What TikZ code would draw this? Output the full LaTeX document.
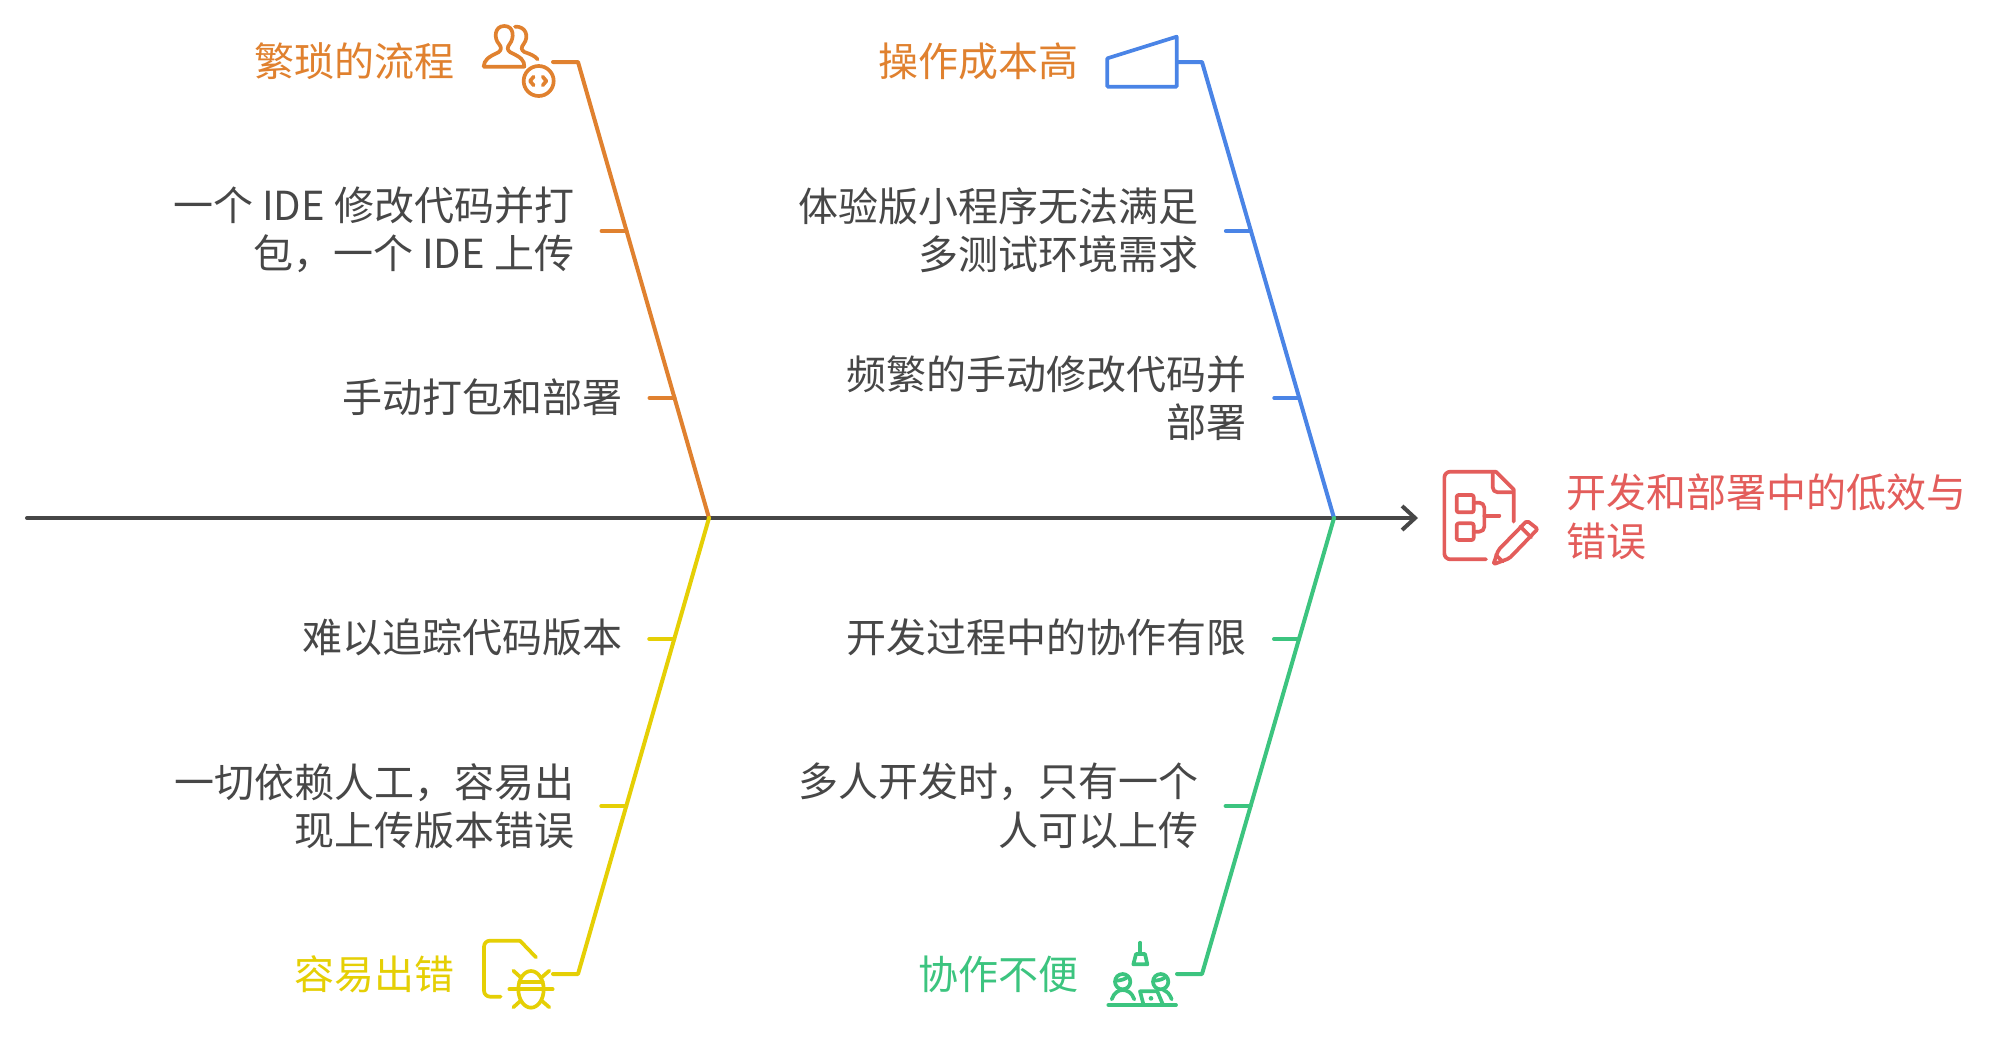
\documentclass[tikz,border=0pt]{standalone}
\usepackage{fontspec}
\setmainfont{Noto Sans CJK SC}
\usetikzlibrary{calc,arrows.meta}
\definecolor{cOrange}{HTML}{E0812F}
\definecolor{cBlue}{HTML}{4A84E6}
\definecolor{cYellow}{HTML}{E5CF05}
\definecolor{cGreen}{HTML}{3CC47F}
\definecolor{cRed}{HTML}{E35D5B}
\definecolor{cText}{HTML}{474747}
\tikzset{
  txt/.style={inner sep=0pt,outer sep=0pt,align=right,anchor=east,text=cText,font=\fontsize{40}{48.5}\selectfont},
  head/.style={inner sep=0pt,outer sep=0pt,anchor=east,font=\fontsize{40}{48.5}\selectfont},
  bone/.style={line width=4pt,line cap=round,line join=round},
  ico/.style={line width=3.7pt,line cap=round,line join=round},
}
\begin{document}
\begin{tikzpicture}[x=1pt,y=-1pt]
\useasboundingbox (0,0) rectangle (1994,1036);
% spine
\coordinate (j1) at (709,518);
\coordinate (j2) at (1334,518);
\coordinate (s0) at (27,518);
\coordinate (s1) at (1418,518);
\draw[bone,cText,-{Straight Barb[length=13pt,width=24pt,line width=4pt]}] (s0) -- (s1);
% branch corners
\coordinate (a0) at (553,62);  \coordinate (a1) at (578,62);
\coordinate (b0) at (1177,62); \coordinate (b1) at (1202,62);
\coordinate (c0) at (553,974); \coordinate (c1) at (578,974);
\coordinate (d0) at (1177,974);\coordinate (d1) at (1202,974);
\draw[bone,cOrange] (a0)--(a1)--(j1);
\draw[bone,cBlue]   (b0)--(b1)--(j2);
\draw[bone,cYellow] (c0)--(c1)--(j1);
\draw[bone,cGreen]  (d0)--(d1)--(j2);
% ribs
\coordinate (ra1) at ($(a1)!0.3706!(j1)$);
\coordinate (ra2) at ($(a1)!0.7368!(j1)$);
\coordinate (rb1) at ($(b1)!0.3706!(j2)$);
\coordinate (rb2) at ($(b1)!0.7368!(j2)$);
\coordinate (rc1) at ($(c1)!0.3684!(j1)$);
\coordinate (rc2) at ($(c1)!0.7346!(j1)$);
\coordinate (rd1) at ($(d1)!0.3684!(j2)$);
\coordinate (rd2) at ($(d1)!0.7346!(j2)$);
\coordinate (ta1) at ($(ra1)-(25,0)$); \coordinate (ta2) at ($(ra2)-(25,0)$);
\coordinate (tb1) at ($(rb1)-(25,0)$); \coordinate (tb2) at ($(rb2)-(25,0)$);
\coordinate (tc1) at ($(rc1)-(25,0)$); \coordinate (tc2) at ($(rc2)-(25,0)$);
\coordinate (td1) at ($(rd1)-(25,0)$); \coordinate (td2) at ($(rd2)-(25,0)$);
\draw[bone,cOrange] (ta1)--(ra1) (ta2)--(ra2);
\draw[bone,cBlue] (tb1)--(rb1) (tb2)--(rb2);
\draw[bone,cYellow] (tc1)--(rc1) (tc2)--(rc2);
\draw[bone,cGreen] (td1)--(rd1) (td2)--(rd2);
% headings
\node[head,text=cOrange] (h1) at (454,61) {繁琐的流程};
\node[head,text=cOrange] (h2) at (1078,61) {操作成本高};
\node[head,text=cYellow] (h3) at (454,974) {容易出错};
\node[head,text=cGreen] (h4) at (1078,974) {协作不便};
% texts
\node[txt] (t1) at (574,230) {一个 IDE 修改代码并打\\包，一个 IDE 上传};
\node[txt] (t2) at (622,397) {手动打包和部署};
\node[txt] (t3) at (1198,230) {体验版小程序无法满足\\多测试环境需求};
\node[txt] (t4) at (1246,398) {频繁的手动修改代码并\\部署};
\node[txt] (t5) at (622,637) {难以追踪代码版本};
\node[txt] (t6) at (574,806) {一切依赖人工，容易出\\现上传版本错误};
\node[txt] (t7) at (1246,637) {开发过程中的协作有限};
\node[txt] (t8) at (1198,806) {多人开发时，只有一个\\人可以上传};
\node[inner sep=0pt,outer sep=0pt,align=left,anchor=west,text=cRed,font=\fontsize{40}{48.5}\selectfont] (t9) at (1566,517) {开发和部署中的低效与\\错误};
% icon users
\begin{scope}[shift={(471,10)},scale=1/3,ico,cOrange]
\draw (38,170) -- (160,170) .. controls (160,150) and (150,142) .. (118,127) .. controls (108,120) and (108,112) .. (116,102) .. controls (130,85) and (130,48) .. (100,48) .. controls (70,48) and (68,85) .. (84,102) .. controls (92,112) and (92,120) .. (82,127) .. controls (50,142) and (40,150) .. (38,170);
\draw (132,50) .. controls (165,48) and (175,80) .. (158,102) .. controls (150,112) and (150,120) .. (160,126) .. controls (178,132) and (192,138) .. (200,148);
\draw (203,213) circle [radius=45];
\draw (188,200) -- (177,213) -- (188,226);
\draw (215,200) -- (226,213) -- (215,226);
\end{scope}
% icon funnel
\begin{scope}[shift={(1100,20)},scale=1/3,ico,cBlue]
\draw (22,115) -- (230,50) -- (230,200) -- (22,200) -- cycle;
\end{scope}
% icon doc
\begin{scope}[shift={(1431,460)},scale=1/3,ico,cRed]
\draw[rounded corners=6pt] (165,298) -- (40,298) -- (40,35) -- (195,35);
\draw (195,35) -- (248,88) -- (248,185);
\draw[rounded corners=5pt] (185,38) -- (185,97) -- (245,97);
\draw[rounded corners=2pt] (77,105) rectangle (128,157);
\draw[rounded corners=2pt] (77,190) rectangle (128,240);
\draw[rounded corners=5pt] (128,128) -- (160,128) -- (160,215) -- (128,215);
\draw (160,167) -- (205,167);
\draw[rounded corners=2pt] (187,313) -- (202,270) -- (288,182) -- (320,207) -- (235,295) -- cycle;
\draw (268,200) -- (300,232);
\draw (195,285) -- (215,305);
\end{scope}
% icon bug
\begin{scope}[shift={(470,930)},scale=1/3,ico,cYellow]
\draw[rounded corners=6pt] (92,200) -- (42,200) -- (42,32) -- (150,32);
\draw (150,32) -- (198,82);
\draw (183,178) ellipse [x radius=38,y radius=55];
\draw (148,155) -- (218,155);
\draw (118,178) -- (248,178);
\draw (130,122) -- (152,142);
\draw (238,122) -- (215,142);
\draw (130,232) -- (152,212);
\draw (238,232) -- (215,212);
\end{scope}
% icon team
\begin{scope}[shift={(1100,930)},scale=1/3,ico,cGreen]
\draw (121,38) -- (121,72);
\draw (108,72) -- (135,72) -- (142,103) -- (100,103) -- cycle;
\draw (68,155) circle [radius=23];
\draw (182,155) circle [radius=23];
\draw (52,152) .. controls (65,150) and (75,148) .. (84,140);
\draw (166,152) .. controls (179,150) and (189,148) .. (198,140);
\draw (35,208) .. controls (42,188) and (55,180) .. (68,180) .. controls (82,180) and (96,188) .. (103,208);
\draw (190,180) .. controls (202,184) and (210,194) .. (215,208);
\draw (25,225) -- (228,225);
\draw (130,222) -- (120,184) -- (172,184) -- (188,222);
\fill (153,205) circle [radius=7];
\end{scope}
\end{tikzpicture}
\end{document}
